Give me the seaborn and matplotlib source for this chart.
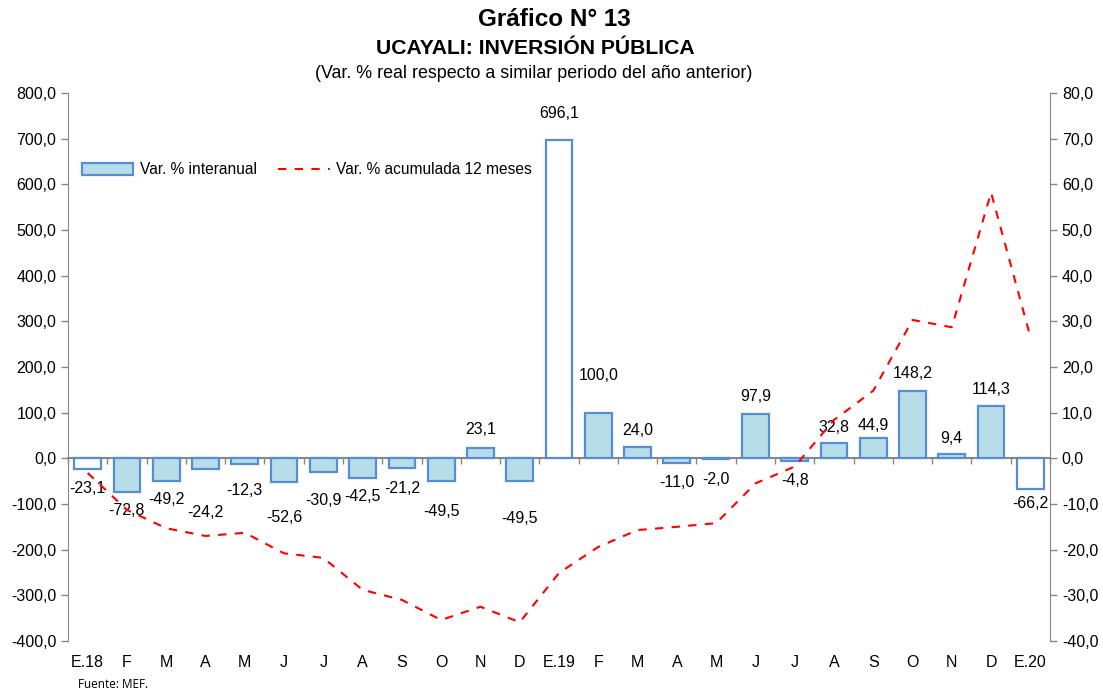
import numpy as np
import pandas as pd
import seaborn as sns
import matplotlib.pyplot as plt
from matplotlib.patches import Patch
from matplotlib.lines import Line2D
from matplotlib.ticker import FuncFormatter, FixedLocator

sns.set_style("white")
plt.rcParams['font.family'] = ['Liberation Sans', 'DejaVu Sans']
plt.rcParams['text.color'] = 'black'
plt.rcParams['xtick.labelcolor'] = 'black'
plt.rcParams['ytick.labelcolor'] = 'black'

months = ['E.18', 'F', 'M', 'A', 'M', 'J', 'J', 'A', 'S', 'O', 'N', 'D',
          'E.19', 'F', 'M', 'A', 'M', 'J', 'J', 'A', 'S', 'O', 'N', 'D', 'E.20']
interanual = [-23.1, -72.8, -49.2, -24.2, -12.3, -52.6, -30.9, -42.5, -21.2, -49.5, 23.1, -49.5,
              696.1, 100.0, 24.0, -11.0, -2.0, 97.9, -4.8, 32.8, 44.9, 148.2, 9.4, 114.3, -66.2]
acumulada = [-3.2, -11.3, -15.3, -17.0, -16.3, -20.8, -21.8, -28.8, -31.0, -35.4, -32.5, -35.9,
             -25.1, -19.4, -15.7, -15.0, -14.2, -5.5, -1.8, 8.4, 14.8, 30.3, 28.7, 58.2, 26.6]

# label distance from bar end, in pixels (hand placed in the original)
label_pad = [20, 19, 19, 43, 27, 35, 28, 19, 20, 31, 18, 38,
             27, 37, 17, 19, 20, 17, 20, 16, 12, 17, 16, 17, 15]

df = pd.DataFrame({'pos': range(len(months)), 'mes': months,
                   'interanual': interanual, 'acumulada': acumulada})

fill = '#b7dde8'
edge = '#558ed5'
grey = '#868686'

fig = plt.figure(figsize=(11.03, 6.93), dpi=100)
ax = fig.add_axes([68 / 1103, 1 - 641 / 693, (1050 - 68) / 1103, (641 - 93) / 693])

sns.barplot(data=df, x='pos', y='interanual', color=fill, width=0.68,
            saturation=1, ax=ax)
for i, p in enumerate(ax.patches):
    p.set_edgecolor(edge)
    p.set_linewidth(1.6)
    if months[i].startswith('E.'):
        p.set_facecolor('white')

comma = FuncFormatter(lambda v, _: f"{v:.1f}".replace('.', ','))

ax.set_xlim(-0.5, len(months) - 0.5)
ax.set_ylim(-400, 800)
ax.set_yticks(np.arange(-400, 801, 100))
ax.yaxis.set_major_formatter(comma)
ax.set_xticks(range(len(months)))
ax.set_xticklabels(months)
ax.tick_params(axis='x', length=0, pad=10, labelsize=11.5, labelcolor='black')
ax.tick_params(axis='y', length=5, width=1, color=grey, direction='out',
               labelsize=11.5, labelcolor='black', left=True)
ax.set_xlabel('')
ax.set_ylabel('')
for s in ['top', 'bottom', 'right']:
    ax.spines[s].set_visible(False)
ax.spines['left'].set_color(grey)

# category axis crossing at zero
sec = ax.secondary_xaxis(400 / 1200)
sec.spines['bottom'].set_color(grey)
sec.spines['bottom'].set_linewidth(1.5)
sec.xaxis.set_major_locator(FixedLocator(np.arange(-0.5, len(months), 1)))
sec.tick_params(axis='x', length=4, width=1, color=grey, labelbottom=False)

for i, v in enumerate(interanual):
    txt = f"{v:.1f}".replace('.', ',')
    off = label_pad[i] * 0.72
    ax.annotate(txt, (i, v), xytext=(0, off if v >= 0 else -off),
                textcoords='offset points', ha='center', va='center',
                fontsize=11.5, color='black')

ax2 = ax.twinx()
sns.lineplot(data=df, x='pos', y='acumulada', ax=ax2, color='red',
             linestyle=(0, (4, 4)), linewidth=1.5)
ax2.set_ylim(-40, 80)
ax2.set_yticks(np.arange(-40, 81, 10))
ax2.yaxis.set_major_formatter(comma)
ax2.set_ylabel('')
ax2.tick_params(axis='y', length=5, width=1, color=grey, direction='out',
                labelsize=11.5, labelcolor='black', right=True)
for s in ['top', 'bottom', 'left']:
    ax2.spines[s].set_visible(False)
ax2.spines['right'].set_color(grey)
ax2.set_xlim(-0.5, len(months) - 0.5)

handles = [Patch(facecolor=fill, edgecolor=edge, linewidth=1.6),
           Line2D([0], [0], color='red', linestyle=(0, (4, 4)), linewidth=1.5)]
ax.legend(handles, ['Var. % interanual', 'Var. % acumulada 12 meses'],
          loc='center left', bbox_to_anchor=(0.0, (641 - 170) / 548), ncol=2,
          frameon=False, fontsize=11.2, handlelength=3.3, handleheight=0.8,
          columnspacing=1.4, handletextpad=0.4, labelcolor='black')

fig.text(0.503, 1 - 20 / 693, 'Gráfico N° 13', ha='center', va='center',
         fontsize=17.5, fontweight='bold', color='black')
fig.text(0.485, 1 - 48 / 693, 'UCAYALI: INVERSIÓN PÚBLICA', ha='center', va='center',
         fontsize=15.2, fontweight='bold', color='black')
fig.text(0.484, 1 - 74 / 693, '(Var. % real respecto a similar periodo del año anterior)',
         ha='center', va='center', fontsize=12.9, color='black')
fig.text(78 / 1103, 1 - 685 / 693, 'Fuente: MEF.', ha='left', va='center',
         fontsize=8.5, family=['Open Sans', 'DejaVu Sans'], color='black')

fig.savefig('out.png', dpi=100)
